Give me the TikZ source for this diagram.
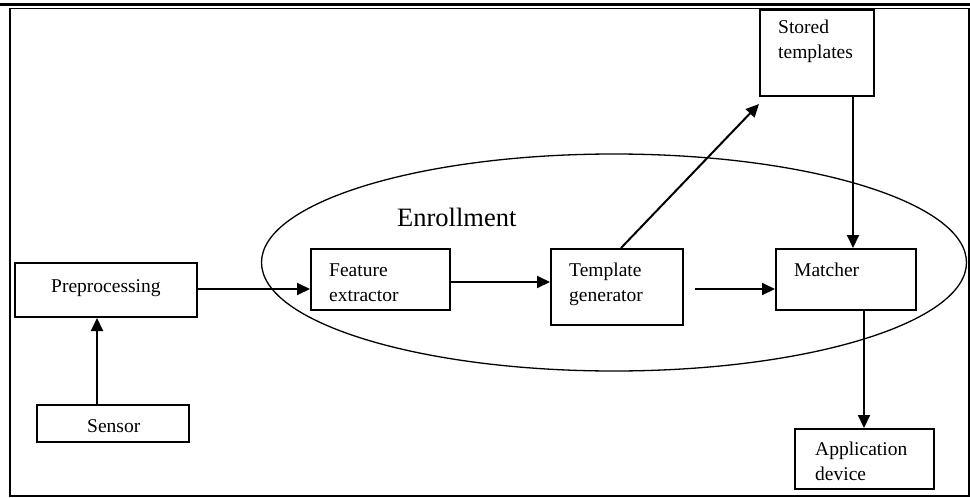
\documentclass[tikz,border=0pt]{standalone}
\usepackage{fontspec}
\setmainfont{Liberation Serif}
\usetikzlibrary{arrows.meta,shapes.geometric}
\begin{document}
\begin{tikzpicture}[x=1pt,y=-1pt,
  box/.style={draw,line width=2pt,inner sep=0pt,anchor=north west},
  lbl/.style={anchor=base west,inner sep=0pt,font=\fontsize{19.5}{25}\selectfont},
  arr/.style={line width=2pt,-{Triangle[length=13pt,width=12pt]}},
]
\useasboundingbox (0,0) rectangle (970,498);

% page frame: heavy rule on top, thin rule below it, then the box sides
\draw[line width=3pt] (0,4.5) -- (970,4.5);
\draw[line width=1.3pt] (9,8.7) -- (970,8.7);
\draw[line width=2pt] (9.5,8) -- (9.5,496) -- (969,496) -- (969,8);

% enrollment region
\node[draw,ellipse,line width=1.3pt,inner sep=0pt,minimum width=705pt,minimum height=217pt] (enr) at (614,262.5) {};
\node[anchor=base west,inner sep=0pt,font=\fontsize{26.5}{30}\selectfont] (enrt) at (397,226) {Enrollment};

% blocks
\node[box,minimum width=114pt,minimum height=86pt] (st)  at (759,9)   {};
\node[box,minimum width=182pt,minimum height=54pt] (pre) at (14,262)  {};
\node[box,minimum width=152pt,minimum height=37pt] (sen) at (36,404)  {};
\node[box,minimum width=139pt,minimum height=61pt] (fe)  at (310,248) {};
\node[box,minimum width=132pt,minimum height=76pt] (tg)  at (550,248) {};
\node[box,minimum width=140pt,minimum height=61pt] (ma)  at (775,248) {};
\node[box,minimum width=139pt,minimum height=60pt] (app) at (794,428) {};

% block captions
\node[lbl] (st1)  at (778,33)  {Stored};
\node[lbl] (st2)  at (778,58)  {templates};
\node[lbl] (pre1) at (51,292)  {Preprocessing};
\node[lbl] (sen1) at (87,432)  {Sensor};
\node[lbl] (fe1)  at (329,276) {Feature};
\node[lbl] (fe2)  at (329,301) {extractor};
\node[lbl] (tg1)  at (569,276) {Template};
\node[lbl] (tg2)  at (569,301) {generator};
\node[lbl] (ma1)  at (794,276) {Matcher};
\node[lbl] (app1) at (815,455) {Application};
\node[lbl] (app2) at (815,480) {device};

% data flow
\draw[arr] ([xshift=-16pt]sen.north) -- ([xshift=-16pt]sen.north |- pre.south);
\draw[arr] ([yshift=1pt]pre.east) -- ([yshift=1pt]pre.east -| fe.west);
\draw[arr] ([yshift=-2.5pt]fe.east) -- ([yshift=-2.5pt]fe.east -| tg.west);
\draw[arr] ([xshift=11pt,yshift=-2pt]tg.east) -- ([yshift=-2pt]tg.east -| ma.west);
\draw[arr] ([xshift=4pt]tg.north) -- ([yshift=-7pt]st.south west);
\draw[arr] ([xshift=36pt]st.south) -- ([xshift=36pt]st.south |- ma.north);
\draw[arr] ([xshift=18pt]ma.south) -- ([xshift=18pt]ma.south |- app.north);
\end{tikzpicture}
\end{document}
